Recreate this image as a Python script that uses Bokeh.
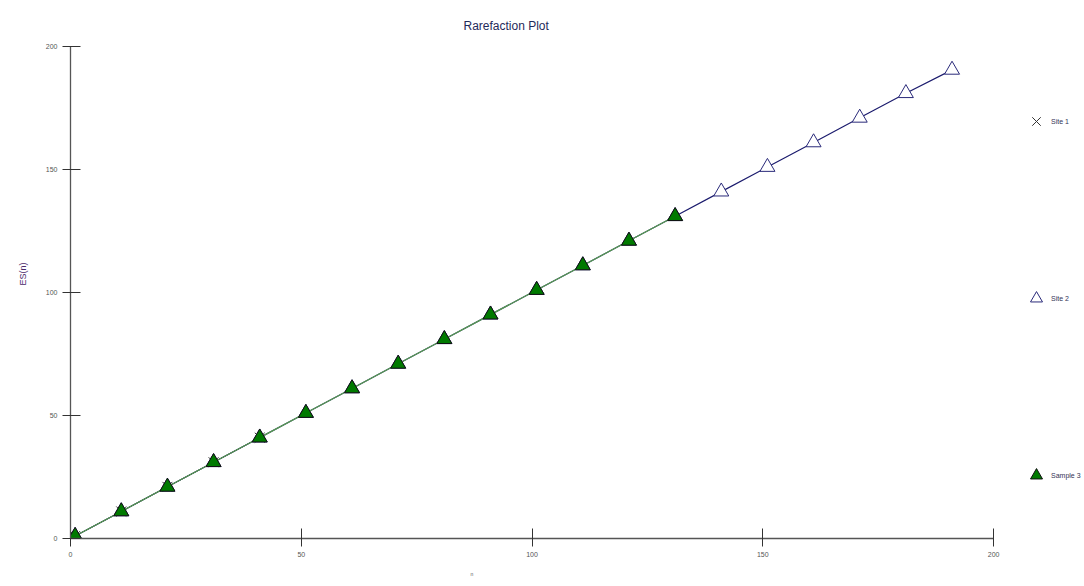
from bokeh.plotting import figure
from bokeh.models import Legend, LegendItem, Range1d, FixedTicker, Title
from bokeh.embed import file_html
from bokeh.resources import INLINE

# Data
site1_n = [1, 11, 21, 31, 41]
site1_es = [1, 11, 21, 31, 41]
site2_n = [1, 11, 21, 31, 41, 51, 61, 71, 81, 91, 101, 111, 121, 131, 141, 151, 161, 171, 181, 191]
site2_es = [1, 11, 21, 31, 41, 51, 61, 71, 81, 91, 101, 111, 121, 131, 141, 151, 161, 171, 181, 190.5]
sample3_n = [1, 11, 21, 31, 41, 51, 61, 71, 81, 91, 101, 111, 121, 131]
sample3_es = [1, 11, 21, 31, 41, 51, 61, 71, 81, 91, 101, 111, 121, 131]
x_ticks = [0, 50, 100, 150, 200]
y_ticks = [0, 50, 100, 150, 200]

p = figure(width=1084, height=586, output_backend="svg", toolbar_location=None,
           x_range=Range1d(0, 219.7), y_range=Range1d(0, 200),
           min_border_left=70, min_border_top=46, min_border_bottom=48, min_border_right=0)
p.title.text = "Rarefaction Plot"
p.title.align = "left"
p.title.offset = 393
p.title.standoff = 24
p.title.vertical_align = "top"
p.title.text_font = "Liberation Sans"
p.title.text_font_size = "12px"
p.title.text_font_style = "normal"
p.title.text_color = "#1f2a5a"
p.outline_line_color = None
p.grid.visible = False
p.background_fill_color = "white"

for ax in (p.xaxis[0], p.yaxis[0]):
    ax.axis_line_color = "#555555"
    ax.axis_line_width = 1.3
    ax.major_tick_line_color = "#333333"
    ax.major_tick_in = 10
    ax.major_tick_out = 8
    ax.minor_tick_line_color = None
    ax.major_label_text_font = "Liberation Sans"
    ax.major_label_text_font_size = "7px"
    ax.major_label_text_color = "#555555"
p.xaxis.ticker = FixedTicker(ticks=x_ticks)
p.xaxis.bounds = (0, 200)
p.yaxis.ticker = FixedTicker(ticks=y_ticks)

xlab = Title(text="n", align="left", offset=400, text_font="Liberation Sans",
             text_font_size="5px", text_font_style="normal", text_color="#555555", standoff=19)
p.add_layout(xlab, "below")
ylab = Title(text="ES(n)", align="left", offset=253, text_font="Liberation Sans",
             text_font_size="9px", text_font_style="normal", text_color="#4a2a6a", standoff=29)
p.add_layout(ylab, "left")

l1 = p.line(site1_n, site1_es, line_color="#333333", line_width=1)
m1 = p.scatter(site1_n, site1_es, marker="x", size=14, line_color="#333333", line_width=1)
l2 = p.line(site2_n, site2_es, line_color="#1c1c6e", line_width=1.2)
m2 = p.scatter(site2_n, site2_es, marker="triangle", size=15, fill_color="white",
               line_color="#2a2a7a", line_width=1)
l3 = p.line(sample3_n, sample3_es, line_color="#5a9e50", line_width=1.2)
m3 = p.scatter(sample3_n, sample3_es, marker="triangle", size=15, fill_color="#007a00",
               line_color="#111111", line_width=1)

legend = Legend(items=[LegendItem(label="Site 1", renderers=[m1]),
                       LegendItem(label="Site 2", renderers=[m2]),
                       LegendItem(label="Sample 3", renderers=[m3])],
                location=(951, 45))
legend.border_line_color = None
legend.background_fill_alpha = 0
legend.label_text_font = "Liberation Sans"
legend.label_text_font_size = "7px"
legend.label_text_color = "#333355"
legend.glyph_width = 30
legend.glyph_height = 36
legend.label_height = 36
legend.label_standoff = 0
legend.spacing = 141
legend.padding = 0
legend.margin = 0
p.add_layout(legend, "center")

open("out.html", "w").write(file_html(p, INLINE))
